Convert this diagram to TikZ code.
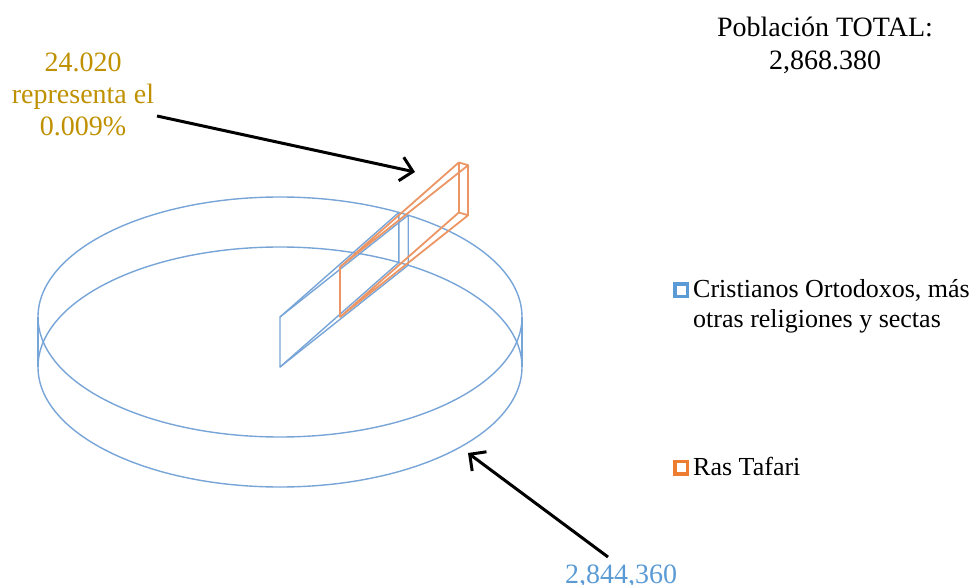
\documentclass[tikz,border=0pt]{standalone}
\usepackage{fontspec}
\setmainfont{Liberation Serif}
\usetikzlibrary{arrows.meta}
\definecolor{pieblue}{RGB}{120,165,215}
\definecolor{pieorange}{RGB}{235,150,100}
\definecolor{legblue}{RGB}{91,155,213}
\definecolor{legorange}{RGB}{237,125,49}
\definecolor{goldtxt}{RGB}{191,144,0}
\begin{document}
\begin{tikzpicture}[x=1pt,y=-1pt,
  pieline/.style={draw=pieblue,line width=1.4pt,line join=round},
  orangeline/.style={draw=pieorange,line width=1.8pt,line join=round},
  legsq/.style={draw,line width=3.5pt,minimum size=12.5pt,inner sep=0pt,fill=white},
  bigtxt/.style={font=\fontsize{28}{32}\selectfont,inner sep=0pt},
  legtxt/.style={font=\fontsize{26}{29}\selectfont,inner sep=0pt,anchor=base west},
  arr/.style={draw=black,line width=3pt,-{Straight Barb[length=12pt,width=24pt,line width=3pt]}}
]
\useasboundingbox (0,0) rectangle (972,585);
% pie body
\draw[pieline] (280,317) ellipse [x radius=242pt, y radius=120pt];
\draw[pieline] (280,367) ellipse [x radius=242pt, y radius=120pt];
\draw[pieline] (38,317) -- (38,367);
\draw[pieline] (522,317) -- (522,367);
% cut faces of the big slice
\draw[pieline] (280,317) -- (398.8,212.5) -- (398.8,262.5) -- (280,367) -- cycle;
\draw[pieline] (280,317) -- (408.2,215.2) -- (408.2,265.2) -- (280,367);
% exploded small slice
\draw[orangeline] (340,267) -- (458.8,162.5) -- (468.2,165.2) -- cycle;
\draw[orangeline] (340,317) -- (458.8,212.5) -- (468.2,215.2) -- cycle;
\draw[orangeline] (340,267) -- (340,317);
\draw[orangeline] (458.8,162.5) -- (458.8,212.5);
\draw[orangeline] (468.2,165.2) -- (468.2,215.2);
% texts
\node[bigtxt,anchor=base] (tot1) at (825,37) {Población TOTAL:};
\node[bigtxt,anchor=base] (tot2) at (825,69.5) {2,868.380};
\node[bigtxt,anchor=base,text=goldtxt] (g1) at (83,71.5) {24.020};
\node[bigtxt,anchor=base,text=goldtxt] (g2) at (83,103.5) {representa el};
\node[bigtxt,anchor=base,text=goldtxt] (g3) at (83,135.5) {0.009\%};
\node[bigtxt,anchor=base,text=legblue] (b1) at (621,583) {2,844,360};
% legend
\node[legsq,draw=legblue] (sq1) at (681,290.5) {};
\node[legtxt] (l1a) at (693,298) {Cristianos Ortodoxos, más};
\node[legtxt] (l1b) at (693,327) {otras religiones y sectas};
\node[legsq,draw=legorange] (sq2) at (681,467.5) {};
\node[legtxt] (l2) at (693,475) {Ras Tafari};
% arrows
\coordinate (a1s) at (157,116);
\coordinate (a1e) at (415,172);
\coordinate (a2s) at (608,557);
\coordinate (a2e) at (468,453);
\draw[arr] (a1s) -- (a1e);
\draw[arr] (a2s) -- (a2e);
\end{tikzpicture}
\end{document}
